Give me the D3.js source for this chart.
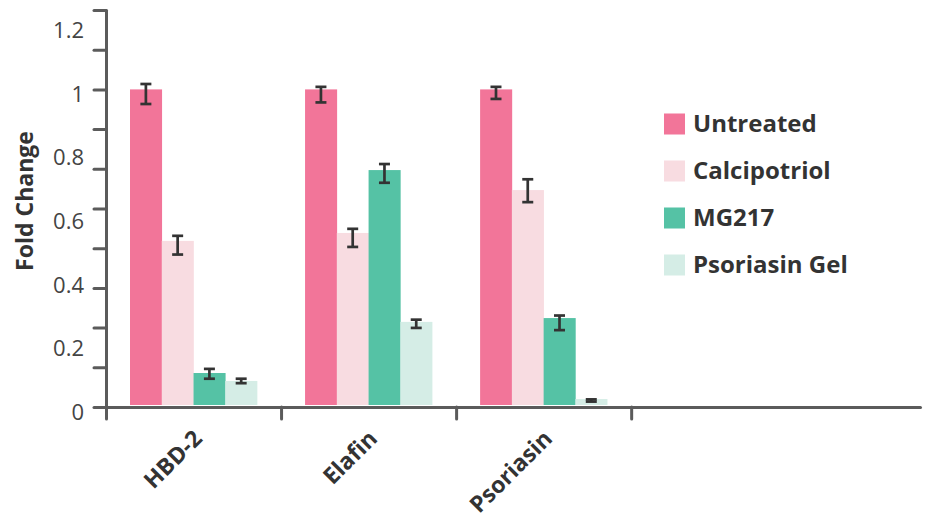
<!DOCTYPE html>
<html lang="en">
<head>
<meta charset="UTF-8">
<script src="https://d3js.org/d3.v7.min.js"></script>
<style>
  body { margin: 0; background: #fff; }
  text { font-family: "Open Sans", sans-serif; }
</style>
</head>
<body>
<div id="chart"></div>
<script>
    // data
    var genes = ["HBD-2", "Elafin", "Psoriasin"];
    var treatments = ["Untreated", "Calcipotriol", "MG217", "Psoriasin Gel"];
    var colors = ["#f27599", "#f8dce1", "#55c2a5", "#d5ede6"];

    var untreated      = [1.000, 1.000, 1.000];
    var untreatedHi    = [1.017, 1.008, 1.008];
    var untreatedLo    = [0.954, 0.959, 0.970];
    var calcipotriol   = [0.523, 0.548, 0.683];
    var calcipotriolHi = [0.539, 0.561, 0.717];
    var calcipotriolLo = [0.480, 0.504, 0.645];
    var mg217          = [0.107, 0.746, 0.280];
    var mg217Hi        = [0.120, 0.765, 0.288];
    var mg217Lo        = [0.089, 0.706, 0.242];
    var gel            = [0.082, 0.268, 0.025];
    var gelHi          = [0.089, 0.275, 0.024];
    var gelLo          = [0.075, 0.249, 0.017];

    var yTickMarks = [0, 0.125, 0.25, 0.375, 0.5, 0.625, 0.75, 0.875, 1, 1.125, 1.25];
    var yTickLabels = [0, 0.2, 0.4, 0.6, 0.8, 1, 1.2];

    var values = [untreated, calcipotriol, mg217, gel];
    var highs = [untreatedHi, calcipotriolHi, mg217Hi, gelHi];
    var lows = [untreatedLo, calcipotriolLo, mg217Lo, gelLo];

    var W = 925, H = 518;
    var axisColor = "#5b5b5b";

    var svg = d3.select("#chart").append("svg")
        .attr("width", W)
        .attr("height", H);

    var y = d3.scaleLinear().domain([0, 1.25]).range([407, 10]);
    var xEdge = d3.scaleLinear().domain([0, 4.65]).range([106, 920]);
    var x0 = d3.scaleBand().domain(genes).range([xEdge(0), xEdge(3)]);
    var x1 = d3.scaleBand().domain(treatments).range([24, x0.bandwidth() - 24]);

    // bars
    var groups = svg.selectAll(".grp")
        .data(genes)
        .enter().append("g")
        .attr("transform", function(d) { return "translate(" + x0(d) + ",0)"; });

    groups.each(function(g, gi) {
        var grp = d3.select(this);
        treatments.forEach(function(t, ti) {
            var v = values[ti][gi];
            grp.append("rect")
                .attr("x", x1(t))
                .attr("width", x1.bandwidth() + 0.3)
                .attr("y", y(v))
                .attr("height", 405 - y(v))
                .attr("fill", colors[ti]);
        });
    });

    // error bars
    groups.each(function(g, gi) {
        var grp = d3.select(this);
        treatments.forEach(function(t, ti) {
            var cx = x1(t) + x1.bandwidth() / 2;
            var yt = y(highs[ti][gi]), yb = y(lows[ti][gi]);
            var eb = grp.append("g")
                .attr("stroke", "#333")
                .attr("stroke-width", 2.7);
            eb.append("line").attr("x1", cx).attr("x2", cx).attr("y1", yt).attr("y2", yb);
            eb.append("line").attr("x1", cx - 5.5).attr("x2", cx + 5.5).attr("y1", yt).attr("y2", yt);
            eb.append("line").attr("x1", cx - 5.5).attr("x2", cx + 5.5).attr("y1", yb).attr("y2", yb);
        });
    });

    // x axis
    var xAxis = svg.append("g")
        .attr("transform", "translate(0,407)")
        .call(d3.axisBottom(xEdge).tickValues([0, 1, 2, 3]).tickSize(12).tickSizeOuter(0).tickFormat(""));
    xAxis.selectAll("path, line")
        .attr("stroke", axisColor)
        .attr("stroke-width", 3)
        .attr("stroke-linecap", "round");

    // y axis tick marks
    var yAxis = svg.append("g")
        .attr("transform", "translate(106,0)")
        .call(d3.axisLeft(y).tickValues(yTickMarks).tickSize(12).tickSizeOuter(0).tickFormat(""));
    yAxis.selectAll("path, line")
        .attr("stroke", axisColor)
        .attr("stroke-width", 3)
        .attr("stroke-linecap", "round");

    // y axis labels
    var yLab = svg.append("g")
        .attr("transform", "translate(84,5)")
        .call(d3.axisLeft(y).tickValues(yTickLabels).tickSize(0).tickPadding(0)
            .tickFormat(function(d) { return String(d); }));
    yLab.select(".domain").remove();
    yLab.selectAll("text")
        .attr("font-family", "Open Sans")
        .attr("font-size", 22)
        .attr("fill", "#444");

    // x labels
    svg.selectAll(".xlab")
        .data(genes)
        .enter().append("text")
        .attr("text-anchor", "end")
        .attr("font-size", 23)
        .attr("font-weight", "bold")
        .attr("fill", "#333")
        .attr("transform", function(d) {
            return "translate(" + (x0(d) + x0.bandwidth() / 2 + 10) + ",440) rotate(-45)";
        })
        .text(function(d) { return d; });

    // y title
    svg.append("text")
        .attr("transform", "translate(33,201) rotate(-90)")
        .attr("text-anchor", "middle")
        .attr("font-size", 23)
        .attr("font-weight", "bold")
        .attr("fill", "#333")
        .text("Fold Change");

    // legend
    var legend = svg.selectAll(".leg")
        .data(treatments)
        .enter().append("g")
        .attr("transform", function(d, i) { return "translate(664," + (124 + i * 47) + ")"; });
    legend.append("rect")
        .attr("x", 0).attr("y", -10.5)
        .attr("width", 21).attr("height", 21)
        .attr("fill", function(d, i) { return colors[i]; });
    legend.append("text")
        .attr("x", 29)
        .attr("dy", "0.35em")
        .attr("font-size", 24)
        .attr("font-weight", "bold")
        .attr("fill", "#333")
        .text(function(d) { return d; });
</script>
</body>
</html>
